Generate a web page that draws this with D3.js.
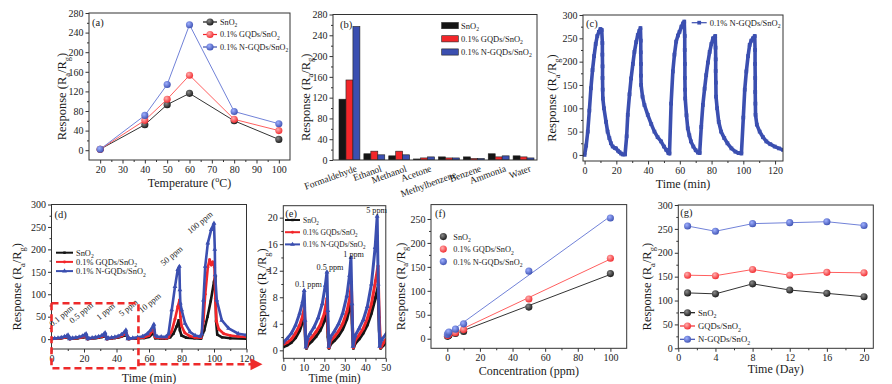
<!DOCTYPE html>
<html>
<head>
<meta charset="utf-8">
<script src="https://cdn.jsdelivr.net/npm/d3@7"></script>
<style>
  body { margin: 0; background: #fff; }
</style>
</head>
<body>
<svg id="fig" width="892" height="384"></svg>
<script>
// series names shared by most panels
const seriesNames = ['SnO_{2}', '0.1% GQDs/SnO_{2}', '0.1% N-GQDs/SnO_{2}']
const stabilityNames = ['SnO_{2}', 'GQDs/SnO_{2}', 'N-GQDs/SnO_{2}']

// (a) response vs operating temperature
const tempC = [20, 40, 50, 60, 80, 100]
const tempSnO2 = [2, 52, 93, 116, 60, 22]
const tempGQD = [2, 61, 104, 153, 63, 40]
const tempNGQD = [2, 71, 134, 256, 79, 54]

// (b) selectivity
const gases = ['Formaldehyde', 'Ethanol', 'Methanol', 'Acetone', 'Methylbenzene', 'Benzene', 'Ammonia', 'Water']
const gasSnO2 = [117, 12, 8, 2, 6, 6, 12, 8]
const gasGQD = [154, 17, 17, 4, 4, 3, 6, 6]
const gasNGQD = [257, 10, 10, 6, 4, 3, 8, 4]

// (c) five cycles, [time (min), response]
const cycleCurve = [
  [0, 0], [1, 20], [2, 50], [3, 95], [4, 143], [5, 182], [6, 212], [7, 238], [8, 255], [9, 264], [10, 270], [10.8, 268],
  [11.2, 240], [11.2, 215], [11.3, 190], [11.3, 165], [11.4, 140], [11.5, 121],
  [12.2, 100], [13.5, 71], [14.5, 50], [15.6, 36], [16.6, 25], [17.7, 18], [19, 15], [19.8, 14], [21, 9], [22, 6], [23, 3], [24, 1], [25.5, 1],
  [26.5, 40], [27.2, 86], [28.3, 130], [29.3, 164], [30.4, 195], [31.4, 221], [32.5, 242], [33.5, 257], [34.5, 266], [35.2, 272],
  [35.4, 245], [35.4, 220], [35.5, 195], [35.5, 170], [35.6, 150],
  [36.5, 125], [37.7, 107], [39.8, 86], [42, 66], [44, 50], [46, 38], [48.2, 29], [50, 18], [51.4, 11], [52.8, 4], [53.5, 3],
  [54.5, 110], [55.6, 179], [56.6, 215], [57.7, 243], [58.8, 256], [59.8, 264], [61, 275], [62, 282], [62.8, 286],
  [63.1, 255], [63.1, 225], [63.2, 195], [63.2, 165], [63.3, 140], [63.4, 121],
  [64.2, 85], [65, 57], [66, 42], [67, 29], [68.5, 18], [70, 10], [71.4, 5], [72.5, 4],
  [73.5, 60], [74.5, 107], [75.6, 142], [76.6, 171], [77.7, 198], [78.8, 221], [79.9, 238], [80.9, 250], [82.3, 255],
  [82.5, 230], [82.6, 205], [82.6, 180], [82.7, 155], [82.8, 125],
  [83.5, 100], [84.5, 71], [86, 50], [88, 36], [90, 25], [92.5, 14], [95, 7], [97, 4], [98.8, 3],
  [100, 80], [100.9, 140], [101.9, 179], [103, 212], [104, 236], [105, 245], [106, 250], [107.2, 255],
  [107.4, 225], [107.4, 195], [107.5, 165], [107.5, 135], [107.6, 110], [107.7, 86],
  [108.5, 65], [110.3, 50], [112.4, 38], [114.5, 29], [117, 23], [119.8, 18], [122.5, 14], [125, 11]
]

// (d) and (e) dynamic response, [time (min), response]
const dynSnO2 = [
  [0, 0.5], [2, 0.8], [4, 1.2], [6, 1.9], [8, 3.0], [9.5, 4.4], [10.3, 5.5], [10.8, 1.5], [11.3, 0.3],
  [12, 0.8], [14, 1.4], [16, 2.1], [18, 3.0], [20, 4.4], [21.3, 6.3], [21.8, 2], [22.3, 0.3],
  [23, 0.9], [25, 1.5], [27, 2.2], [29, 3.2], [31, 4.7], [32.5, 6.5], [33.2, 7.8], [33.7, 3], [34.2, 0.3],
  [35, 1.0], [37, 1.7], [39, 2.6], [41, 3.8], [43, 5.6], [45, 8.0], [46.2, 9.5], [46.8, 3], [47.5, 0.3],
  [49, 0.8], [50, 1.1], [53, 1.5], [57, 2.5], [60, 5], [63, 14], [63.8, 2], [67, 1.5], [70.5, 1],
  [73, 4], [75, 12], [77, 28], [78.3, 42], [79, 20], [80, 8], [83, 3], [88, 2], [92, 1],
  [94, 20], [96, 50], [98, 85], [100, 128], [100.8, 140], [101.3, 40], [102, 10], [105, 4], [110, 2], [120, 1]
]
const dynGQD = [
  [0, 0.9], [2, 1.2], [4, 1.7], [6, 2.6], [8, 3.8], [9.5, 5.2], [10.3, 6.5], [10.8, 2], [11.3, 0.4],
  [12, 1.3], [14, 2.0], [16, 2.8], [18, 3.8], [20, 5.5], [21.3, 7.8], [21.8, 3], [22.3, 0.4],
  [23, 1.4], [25, 2.1], [27, 2.9], [29, 4.0], [31, 5.8], [32.5, 8.0], [33.2, 10.0], [33.7, 4], [34.2, 0.4],
  [35, 1.5], [37, 2.3], [39, 3.3], [41, 4.8], [43, 7.0], [45, 10.5], [46.2, 12.7], [46.8, 5], [47.5, 0.4],
  [49, 1.2], [50, 1.6], [53, 2.5], [57, 4], [60, 8], [63, 22], [63.8, 4], [67, 2.5], [70.5, 2],
  [72, 4], [74, 18], [76, 45], [77.7, 72], [78.8, 87], [79.3, 50], [80, 30], [82, 14], [85, 7], [88, 4], [92, 3],
  [93.5, 40], [94.6, 100], [96.2, 160], [97.3, 177], [98.3, 165], [99.2, 172], [100.3, 160], [100.8, 90], [101.5, 40],
  [103, 22], [106, 12], [110, 8], [115, 6], [120, 5]
]
const dynNGQD = [
  [0, 1.2], [2, 1.8], [4, 2.6], [6, 3.8], [8, 5.6], [9.5, 7.4], [10.2, 9.0], [10.6, 4.5], [11, 0.5],
  [11.8, 1.8], [13, 2.5], [15, 3.5], [17, 4.9], [19, 7.0], [20.5, 9.8], [21.3, 11.8], [21.7, 6], [22.2, 0.6],
  [23, 2.0], [25, 2.9], [27, 4.0], [29, 5.6], [31, 8.2], [32.3, 11.3], [33, 14.0], [33.5, 7], [34, 0.6],
  [35, 2.2], [37, 3.3], [39, 4.6], [41, 6.6], [43, 10.0], [44.8, 15.5], [45.8, 20.2], [46.3, 10], [47, 0.6],
  [48, 1.6], [50, 2.4], [53, 4], [56, 6], [59, 12], [61, 20], [63, 33], [63.8, 9], [65, 6], [67.5, 5], [70.5, 5],
  [72, 12], [74, 65], [76, 117], [77.7, 155], [78.7, 162], [79, 110], [79.3, 80], [80.1, 65], [82.2, 35],
  [85.3, 16], [88.4, 8], [91.5, 6], [92.5, 12], [93.5, 87], [94.6, 162], [96.2, 214], [98.3, 244], [100, 258],
  [100.5, 200], [100.7, 143], [101.7, 87], [104.8, 42], [109, 24], [115, 12], [120, 9]
]
const dLabels = ['0.1 ppm', '0.5 ppm', '1 ppm', '5 ppm', '10 ppm', '50 ppm', '100 ppm']
const dLabelT = [7.1, 19.4, 34.4, 48.3, 61.6, 75, 92.5]
const dLabelV = [47, 54, 57, 65, 76, 181, 255]
const eLabels = ['0.1 ppm', '0.5 ppm', '1 ppm', '5 ppm']
const eLabelT = [12.3, 22.8, 34.3, 45.5]
const eLabelV = [10, 12.5, 14.5, 21.1]

// (f) response vs concentration
const conc = [0.1, 0.5, 1, 5, 10, 50, 100]
const concSnO2 = [5, 6, 7, 11, 15, 66, 136]
const concGQD = [6.5, 8, 10, 12.5, 19, 83, 168]
const concNGQD = [9, 12, 14, 20, 31, 141, 252]

// (g) long-term stability
const days = [1, 4, 8, 12, 16, 20]
const daySnO2 = [116, 114, 135, 122, 115, 108]
const dayGQD = [153, 152, 165, 153, 159, 158]
const dayNGQD = [256, 245, 261, 263, 265, 257]

const FONT = "'Liberation Serif', 'Times New Roman', serif"
const COL = ['#151515', '#f2262a', '#3b4fb0']
const LINE = ['#333333', '#ff5f5f', '#7182d8']
const SHINE = ['#8a8a8a', '#ffb0b0', '#9fb0ff']

const svg = d3.select('#fig').attr('font-family', FONT).attr('fill', '#1a1a1a')
let clipCount = 0

const defs = svg.append('defs')
COL.forEach((c, i) => {
  const gr = defs.append('radialGradient').attr('id', 'ball' + i)
    .attr('cx', '38%').attr('cy', '35%').attr('r', '70%')
  gr.append('stop').attr('offset', '0%').attr('stop-color', SHINE[i])
  gr.append('stop').attr('offset', '100%').attr('stop-color', c)
})

// writes a string with _{sub} and ^{sup} parts into a text element
function rich (text, str, size) {
  let shift = 0
  str.split(/([_^]\{[^}]*\})/).forEach(p => {
    if (!p) return
    const m = p.match(/^([_^])\{(.*)\}$/)
    if (m) {
      const dy = m[1] === '_' ? size * 0.3 : -size * 0.4
      text.append('tspan').attr('dy', dy - shift).attr('font-size', size * 0.68).text(m[2])
      shift = dy
    } else {
      text.append('tspan').attr('dy', -shift).text(p)
      shift = 0
    }
  })
}

function minorOf (ticks) {
  return ticks.slice(1).map((t, i) => (t + ticks[i]) / 2)
}

function styleAxis (a) {
  a.select('.domain').remove()
  a.attr('font-family', FONT).attr('font-size', 10)
  a.selectAll('line').attr('stroke', '#333')
  a.selectAll('text').attr('fill', '#222')
}

function makePanel (box, xDomain, yDomain, xTicks, yTicks) {
  const g = svg.append('g').attr('transform', 'translate(' + box.x + ',' + box.y + ')')
  const x = d3.scaleLinear().domain(xDomain).range([0, box.w])
  const y = d3.scaleLinear().domain(yDomain).range([box.h, 0])
  if (xTicks) {
    g.append('g').attr('transform', 'translate(0,' + box.h + ')')
      .call(d3.axisBottom(x).tickValues(minorOf(xTicks)).tickSize(2).tickFormat(''))
      .call(styleAxis)
    g.append('g').attr('transform', 'translate(0,' + box.h + ')')
      .call(d3.axisBottom(x).tickValues(xTicks).tickSize(3.5).tickPadding(2))
      .call(styleAxis)
  }
  g.append('g').call(d3.axisLeft(y).tickValues(minorOf(yTicks)).tickSize(2).tickFormat(''))
    .call(styleAxis)
  g.append('g').call(d3.axisLeft(y).tickValues(yTicks).tickSize(3.5).tickPadding(2))
    .call(styleAxis)
  const cid = 'clip' + (clipCount++)
  g.append('clipPath').attr('id', cid)
    .append('rect').attr('width', box.w).attr('height', box.h)
  const plot = g.append('g').attr('clip-path', 'url(#' + cid + ')')
  g.append('rect')
    .attr('width', box.w).attr('height', box.h)
    .attr('fill', 'none').attr('stroke', '#333').attr('stroke-width', 1)
  return { g, plot, x, y, w: box.w, h: box.h }
}

function yLabel (p, offset) {
  const t = p.g.append('text')
    .attr('transform', 'translate(' + offset + ',' + (p.h / 2 + 10) + ') rotate(-90)')
    .attr('text-anchor', 'middle').attr('font-size', 12.5)
  rich(t, 'Response (R_{a}/R_{g})', 12.5)
}

function xLabel (p, str, dy, size) {
  const t = p.g.append('text')
    .attr('x', p.w / 2).attr('y', p.h + dy)
    .attr('text-anchor', 'middle').attr('font-size', size || 12)
  rich(t, str, size || 12)
}

function tag (p, str, dx, dy) {
  p.g.append('text').attr('x', dx).attr('y', dy).attr('font-size', 10.5).text(str)
}

function lineOf (p) {
  return d3.line().x(d => p.x(d[0])).y(d => p.y(d[1]))
}

function drawMarkers (sel, p, data, symbol, fill) {
  sel.selectAll(null).data(data).enter().append('path')
    .attr('d', symbol)
    .attr('transform', d => 'translate(' + p.x(d[0]) + ',' + p.y(d[1]) + ')')
    .attr('fill', fill)
}

// line + marker legend
function legend (p, items, lx, ly, step, len, fs) {
  items.forEach((it, i) => {
    const yy = ly + i * step
    p.g.append('line')
      .attr('x1', lx).attr('x2', lx + len).attr('y1', yy).attr('y2', yy)
      .attr('stroke', it.line).attr('stroke-width', it.width || 1.2)
    if (it.symbol) {
      p.g.append('path').attr('d', it.symbol)
        .attr('transform', 'translate(' + (lx + len / 2) + ',' + yy + ')')
        .attr('fill', it.fill)
    }
    const t = p.g.append('text').attr('x', lx + len + 3).attr('y', yy + fs * 0.35).attr('font-size', fs)
    rich(t, it.label, fs)
  })
}

const ball = d3.symbol().type(d3.symbolCircle).size(40)()

// ---------- (a) ----------
const pa = makePanel({ x: 89, y: 13, w: 201, h: 147 }, [15, 105], [-20, 280],
  d3.range(20, 101, 10), d3.range(0, 281, 40))
;[tempSnO2, tempGQD, tempNGQD].forEach((vals, i) => {
  const data = d3.zip(tempC, vals)
  pa.plot.append('path').datum(data).attr('d', lineOf(pa))
    .attr('fill', 'none').attr('stroke', LINE[i]).attr('stroke-width', 1)
  drawMarkers(pa.plot, pa, data, ball, 'url(#ball' + i + ')')
})
yLabel(pa, -23)
xLabel(pa, 'Temperature (^{o}C)', 27)
tag(pa, '(a)', 3, 13)
legend(pa, seriesNames.map((s, i) => ({ label: s, line: COL[i], symbol: ball, fill: 'url(#ball' + i + ')' })),
  114, 9, 12.5, 14, 8.2)

// ---------- (b) ----------
const pb = makePanel({ x: 333, y: 14.5, w: 204, h: 145.5 }, [0, 1], [0, 280], null, d3.range(0, 281, 40))
const x0 = d3.scaleBand().domain(gases).range([6, pb.w - 3]).paddingInner(0.16)
const x1 = d3.scaleBand().domain([0, 1, 2]).range([0, x0.bandwidth()])
const gasSeries = [gasSnO2, gasGQD, gasNGQD]
gases.forEach((gas, gi) => {
  gasSeries.forEach((vals, si) => {
    pb.plot.append('rect')
      .attr('x', x0(gas) + x1(si)).attr('width', x1.bandwidth())
      .attr('y', pb.y(vals[gi])).attr('height', pb.h - pb.y(vals[gi]))
      .attr('fill', COL[si]).attr('stroke', '#222').attr('stroke-width', 0.6)
  })
  const cx = x0(gas) + x0.bandwidth() / 2 + 8
  const cy = pb.h + 11 + (gas === 'Methylbenzene' ? 6 : 0)
  pb.g.append('text')
    .attr('transform', 'translate(' + cx + ',' + cy + ') rotate(-20)')
    .attr('text-anchor', 'end').attr('font-size', 9.5).text(gas)
})
yLabel(pb, -23.5)
tag(pb, '(b)', 7, 13.5)
seriesNames.forEach((s, i) => {
  const yy = 11 + i * 13.2
  pb.g.append('rect').attr('x', 108.7).attr('y', yy - 3).attr('width', 16.6).attr('height', 6.2)
    .attr('fill', COL[i]).attr('stroke', '#222').attr('stroke-width', 0.6)
  const t = pb.g.append('text').attr('x', 128).attr('y', yy + 3).attr('font-size', 8.5)
  rich(t, s, 8.5)
})

// ---------- (c) ----------
const pc = makePanel({ x: 583, y: 15, w: 200, h: 146 }, [-1, 125], [-13, 300],
  d3.range(0, 121, 20), d3.range(0, 301, 50))
const square = d3.symbol().type(d3.symbolSquare).size(14)()
pc.plot.append('path').datum(cycleCurve).attr('d', lineOf(pc))
  .attr('fill', 'none').attr('stroke', COL[2]).attr('stroke-width', 3.6).attr('stroke-linejoin', 'round')
drawMarkers(pc.plot, pc, cycleCurve, square, COL[2])
yLabel(pc, -27)
xLabel(pc, 'Time (min)', 27)
tag(pc, '(c)', 3, 12)
legend(pc, [{ label: seriesNames[2], line: COL[2], symbol: square, fill: COL[2] }], 108.7, 7.7, 0, 15, 8.5)

// ---------- (d) ----------
const pd = makePanel({ x: 51.5, y: 204.5, w: 195, h: 144.5 }, [0, 120], [-22, 300],
  d3.range(0, 121, 20), d3.range(0, 301, 50))
const dynSymbols = [
  d3.symbol().type(d3.symbolSquare).size(6)(),
  d3.symbol().type(d3.symbolCircle).size(7)(),
  d3.symbol().type(d3.symbolTriangle).size(10)()
]
const dynSeries = [dynSnO2, dynGQD, dynNGQD]
dynSeries.forEach((data, i) => {
  pd.plot.append('path').datum(data).attr('d', lineOf(pd))
    .attr('fill', 'none').attr('stroke', COL[i]).attr('stroke-width', 2.6).attr('stroke-linejoin', 'round')
  drawMarkers(pd.plot, pd, data, dynSymbols[i], COL[i])
})
dLabels.forEach((s, i) => {
  pd.g.append('text')
    .attr('transform', 'translate(' + pd.x(dLabelT[i]) + ',' + pd.y(dLabelV[i]) + ') rotate(-40)')
    .attr('text-anchor', 'middle').attr('font-size', 8.5).text(s)
})
yLabel(pd, -30.5)
xLabel(pd, 'Time (min)', 33)
tag(pd, '(d)', 3, 13)
legend(pd, seriesNames.map((s, i) => ({ label: s, line: COL[i], width: 2, symbol: dynSymbols[i], fill: COL[i] })),
  4.5, 48.2, 9.2, 17, 8.4)
// zoom box and arrow towards (e)
const boxRight = pd.x(53.5)
pd.g.append('rect')
  .attr('x', 0).attr('y', pd.y(80)).attr('width', boxRight).attr('height', pd.h + 19.3 - pd.y(80))
  .attr('fill', 'none').attr('stroke', '#ee2a2a').attr('stroke-width', 2.6).attr('stroke-dasharray', '7,4')
pd.g.append('line')
  .attr('x1', boxRight).attr('x2', pd.w + 6).attr('y1', pd.h + 15.3).attr('y2', pd.h + 15.3)
  .attr('stroke', '#ee2a2a').attr('stroke-width', 2.6).attr('stroke-dasharray', '7,4')
pd.g.append('path')
  .attr('d', 'M' + (pd.w + 4) + ',' + (pd.h + 9.3) + 'L' + (pd.w + 16) + ',' + (pd.h + 15.3) + 'L' + (pd.w + 4) + ',' + (pd.h + 21.3) + 'Z')
  .attr('fill', '#ee2a2a')

// ---------- (e) ----------
const pe = makePanel({ x: 283.3, y: 205.7, w: 102.5, h: 152.6 }, [0, 50], [-1.2, 21.8],
  d3.range(0, 51, 10), d3.range(0, 21, 4))
dynSeries.forEach((data, i) => {
  const part = data.filter(d => d[0] <= 53)
  pe.plot.append('path').datum(part).attr('d', lineOf(pe))
    .attr('fill', 'none').attr('stroke', COL[i]).attr('stroke-width', 3).attr('stroke-linejoin', 'round')
  drawMarkers(pe.plot, pe, part, dynSymbols[i], COL[i])
})
eLabels.forEach((s, i) => {
  pe.g.append('text').attr('x', pe.x(eLabelT[i])).attr('y', pe.y(eLabelV[i]) + 3)
    .attr('text-anchor', 'middle').attr('font-size', 8.2).text(s)
})
yLabel(pe, -17)
xLabel(pe, 'Time (min)', 24, 11.5)
tag(pe, '(e)', 2, 11)
legend(pe, seriesNames.map((s, i) => ({ label: s, line: COL[i], width: 2, symbol: dynSymbols[i], fill: COL[i] })),
  1.7, 14.3, 12.2, 15, 7.5)

// ---------- (f) ----------
const pf = makePanel({ x: 431, y: 204.6, w: 195.7, h: 143.7 }, [-10, 110], [-20, 280],
  d3.range(0, 101, 20), d3.range(0, 251, 50))
;[concSnO2, concGQD, concNGQD].forEach((vals, i) => {
  const data = d3.zip(conc, vals)
  // least squares fit drawn over 0-100 ppm
  const mx = d3.mean(conc)
  const my = d3.mean(vals)
  const slope = d3.sum(conc, (c, k) => (c - mx) * (vals[k] - my)) / d3.sum(conc, c => (c - mx) * (c - mx))
  const icpt = my - slope * mx
  pf.plot.append('line')
    .attr('x1', pf.x(0)).attr('y1', pf.y(icpt))
    .attr('x2', pf.x(100)).attr('y2', pf.y(icpt + slope * 100))
    .attr('stroke', LINE[i]).attr('stroke-width', 1)
  drawMarkers(pf.plot, pf, data, ball, 'url(#ball' + i + ')')
})
yLabel(pf, -26.5)
xLabel(pf, 'Concentration (ppm)', 26.7)
tag(pf, '(f)', 4, 12)
seriesNames.forEach((s, i) => {
  const yy = 32 + i * 12.5
  pf.g.append('path').attr('d', ball).attr('transform', 'translate(12.3,' + yy + ')').attr('fill', 'url(#ball' + i + ')')
  const t = pf.g.append('text').attr('x', 22.3).attr('y', yy + 3).attr('font-size', 8.3)
  rich(t, s, 8.3)
})

// ---------- (g) ----------
const pg = makePanel({ x: 678.3, y: 205, w: 195, h: 143.3 }, [0, 21], [0, 300],
  d3.range(0, 21, 4), d3.range(0, 301, 50))
;[daySnO2, dayGQD, dayNGQD].forEach((vals, i) => {
  const data = d3.zip(days, vals)
  pg.plot.append('path').datum(data).attr('d', lineOf(pg))
    .attr('fill', 'none').attr('stroke', LINE[i]).attr('stroke-width', 1)
  drawMarkers(pg.plot, pg, data, ball, 'url(#ball' + i + ')')
})
yLabel(pg, -27)
xLabel(pg, 'Time (Day)', 25)
tag(pg, '(g)', 2, 11)
legend(pg, stabilityNames.map((s, i) => ({ label: s, line: COL[i], symbol: ball, fill: 'url(#ball' + i + ')' })),
  1.7, 107.7, 13.3, 15, 8.7)
</script>
</body>
</html>
